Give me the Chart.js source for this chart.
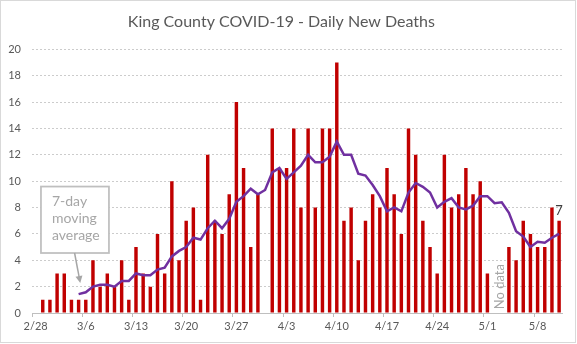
<!DOCTYPE html>
<html>
<head>
<meta charset="utf-8">
<title>King County COVID-19 - Daily New Deaths</title>
<script src="https://cdn.jsdelivr.net/npm/chart.js@4.4.1/dist/chart.umd.min.js"></script>
<style>
  html, body { margin: 0; padding: 0; background: #fff; }
  #wrap { position: relative; width: 577px; height: 344px; }
</style>
</head>
<body>
<div id="wrap"><canvas id="deaths"></canvas></div>
<script>
// one category per day, 2/28 .. 5/11
const days = [
  '2/28','2/29','3/1','3/2','3/3','3/4','3/5','3/6','3/7','3/8','3/9','3/10','3/11','3/12',
  '3/13','3/14','3/15','3/16','3/17','3/18','3/19','3/20','3/21','3/22','3/23','3/24','3/25','3/26',
  '3/27','3/28','3/29','3/30','3/31','4/1','4/2','4/3','4/4','4/5','4/6','4/7','4/8','4/9',
  '4/10','4/11','4/12','4/13','4/14','4/15','4/16','4/17','4/18','4/19','4/20','4/21','4/22','4/23',
  '4/24','4/25','4/26','4/27','4/28','4/29','4/30','5/1','5/2','5/3','5/4','5/5','5/6','5/7',
  '5/8','5/9','5/10','5/11'
];

// daily new deaths (null = no report that day)
const deaths = [
  0, 1, 1, 3, 3, 1, 1, 1, 4, 2, 3, 2, 4, 1,
  5, 3, 2, 6, 3, 10, 4, 7, 8, 1, 12, 7, 6, 9,
  16, 11, 5, 9, null, 14, 11, 11, 14, 8, 14, 8, 14, 14,
  19, 7, 8, 4, 7, 9, 8, 11, 9, 6, 14, 12, 7, 5,
  3, 12, 8, 9, 11, 9, 10, 3, null, null, 5, 4, 7, 6,
  5, 5, 8, 7
];

// 7-day moving average
const avg7 = [
  null, null, null, null, null, null, 1.43, 1.57, 2.0, 2.14, 2.14, 2.0, 2.43, 2.43,
  3.0, 2.86, 2.86, 3.29, 3.43, 4.29, 4.71, 5.0, 5.71, 5.57, 6.43, 7.0, 6.43, 7.14,
  8.43, 8.86, 9.43, 9.0, 9.33, 10.67, 11.0, 10.17, 10.67, 11.17, 12.0, 11.43, 11.43, 11.86,
  13.0, 12.0, 12.0, 10.57, 10.43, 9.71, 8.86, 7.71, 8.0, 7.71, 9.14, 9.86, 9.57, 9.14,
  8.0, 8.43, 8.71, 8.0, 7.86, 8.14, 8.86, 8.86, 8.33, 8.4, 7.6, 6.2, 5.8, 5.0,
  5.4, 5.33, 5.71, 6.0
];

const yMin = 0, yMax = 20, yStep = 2;
const labelEvery = 7;   // a date label once a week

const FONT = 'Lato, "Open Sans", sans-serif';
const GREY = '#595959';

// callout box, "No data" note, last-value label and the outer frame
const notes = {
  id: 'notes',
  afterDraw(chart) {
    const { ctx, scales: { x, y } } = chart;
    ctx.save();

    // frame
    ctx.strokeStyle = '#d9d9d9';
    ctx.lineWidth = 1;
    ctx.strokeRect(0.5, 0.5, 575, 342);

    // moving average callout
    const bx0 = x.getPixelForValue(0.75), bx1 = x.getPixelForValue(10.23);
    const by0 = y.getPixelForValue(9.59), by1 = y.getPixelForValue(4.55);
    ctx.fillStyle = '#fff';
    ctx.fillRect(bx0, by0, bx1 - bx0, by1 - by0);
    ctx.strokeStyle = '#bfbfbf';
    ctx.lineWidth = 1.75;
    ctx.strokeRect(bx0, by0, bx1 - bx0, by1 - by0);

    ctx.fillStyle = '#a6a6a6';
    ctx.font = '14px ' + FONT;
    ctx.textAlign = 'left';
    ctx.textBaseline = 'alphabetic';
    const tx = x.getPixelForValue(2.28);
    ['7-day', 'moving', 'average'].forEach((s, i) => ctx.fillText(s, tx, by0 + 19 + i * 17.2));

    // arrow from the box down to the line
    const ax0 = x.getPixelForValue(5.44), ay0 = by1;
    const ax1 = x.getPixelForValue(6.23), ay1 = y.getPixelForValue(2.27);
    const ang = Math.atan2(ay1 - ay0, ax1 - ax0);
    ctx.strokeStyle = '#a6a6a6';
    ctx.lineWidth = 1.5;
    ctx.beginPath();
    ctx.moveTo(ax0, ay0);
    ctx.lineTo(ax1 - 5 * Math.cos(ang), ay1 - 5 * Math.sin(ang));
    ctx.stroke();
    ctx.beginPath();
    ctx.moveTo(ax1, ay1);
    ctx.lineTo(ax1 - 7 * Math.cos(ang) + 3.5 * Math.sin(ang), ay1 - 7 * Math.sin(ang) - 3.5 * Math.cos(ang));
    ctx.lineTo(ax1 - 7 * Math.cos(ang) - 3.5 * Math.sin(ang), ay1 - 7 * Math.sin(ang) + 3.5 * Math.cos(ang));
    ctx.closePath();
    ctx.fill();

    // gap in reporting
    ctx.save();
    ctx.translate(x.getPixelForValue(64.67), y.getPixelForValue(2.0));
    ctx.rotate(-Math.PI / 2);
    ctx.font = '13px ' + FONT;
    ctx.textAlign = 'center';
    ctx.textBaseline = 'middle';
    ctx.fillStyle = '#a6a6a6';
    ctx.fillText('No data', 0, 0);
    ctx.restore();

    // value of the latest day
    const last = deaths.length - 1;
    const bar = chart.getDatasetMeta(1).data[last];
    ctx.font = '13px ' + FONT;
    ctx.fillStyle = '#404040';
    ctx.textAlign = 'center';
    ctx.textBaseline = 'bottom';
    ctx.fillText(String(deaths[last]), bar.x, bar.y - 3);

    ctx.restore();
  }
};

new Chart(document.getElementById('deaths'), {
  data: {
    labels: days,
    datasets: [
      {
        type: 'line',
        label: '7-day moving average',
        data: avg7,
        borderColor: '#7030a0',
        borderWidth: 2.5,
        pointRadius: 0,
        tension: 0,
        order: 0
      },
      {
        type: 'bar',
        label: 'Daily new deaths',
        data: deaths,
        backgroundColor: '#c00000',
        categoryPercentage: 1,
        barPercentage: 0.48,
        order: 1
      }
    ]
  },
  options: {
    responsive: true,
    maintainAspectRatio: false,
    animation: false,
    layout: { padding: { left: 0, right: 14.3, top: 0, bottom: 0 } },
    plugins: {
      legend: { display: false },
      tooltip: { enabled: false },
      title: {
        display: true,
        text: 'King County COVID-19 - Daily New Deaths',
        color: GREY,
        font: { family: FONT, size: 16, weight: 'normal' },
        padding: { top: 12.5, bottom: 17.6 }
      }
    },
    scales: {
      x: {
        offset: true,
        grid: {
          offset: true,
          drawOnChartArea: false,
          drawTicks: true,
          tickLength: 4,
          color: c => (c.index % labelEvery === 0 ? '#bfbfbf' : 'rgba(0,0,0,0)')
        },
        border: { display: true, color: '#bfbfbf', width: 1 },
        ticks: {
          autoSkip: false,
          maxRotation: 0,
          padding: 3,
          color: GREY,
          font: { family: FONT, size: 11 },
          callback: (v, i) => (i % labelEvery === 0 ? days[i] : '')
        },
        afterFit: s => { s.height = 31; }
      },
      y: {
        min: yMin,
        max: yMax,
        grid: { color: '#cccccc', drawTicks: false },
        border: { display: false, dash: [2, 2] },
        ticks: {
          stepSize: yStep,
          padding: 11,
          color: GREY,
          font: { family: FONT, size: 11 }
        },
        afterFit: s => { s.width = 32; }
      }
    }
  },
  plugins: [notes]
});
</script>
</body>
</html>
